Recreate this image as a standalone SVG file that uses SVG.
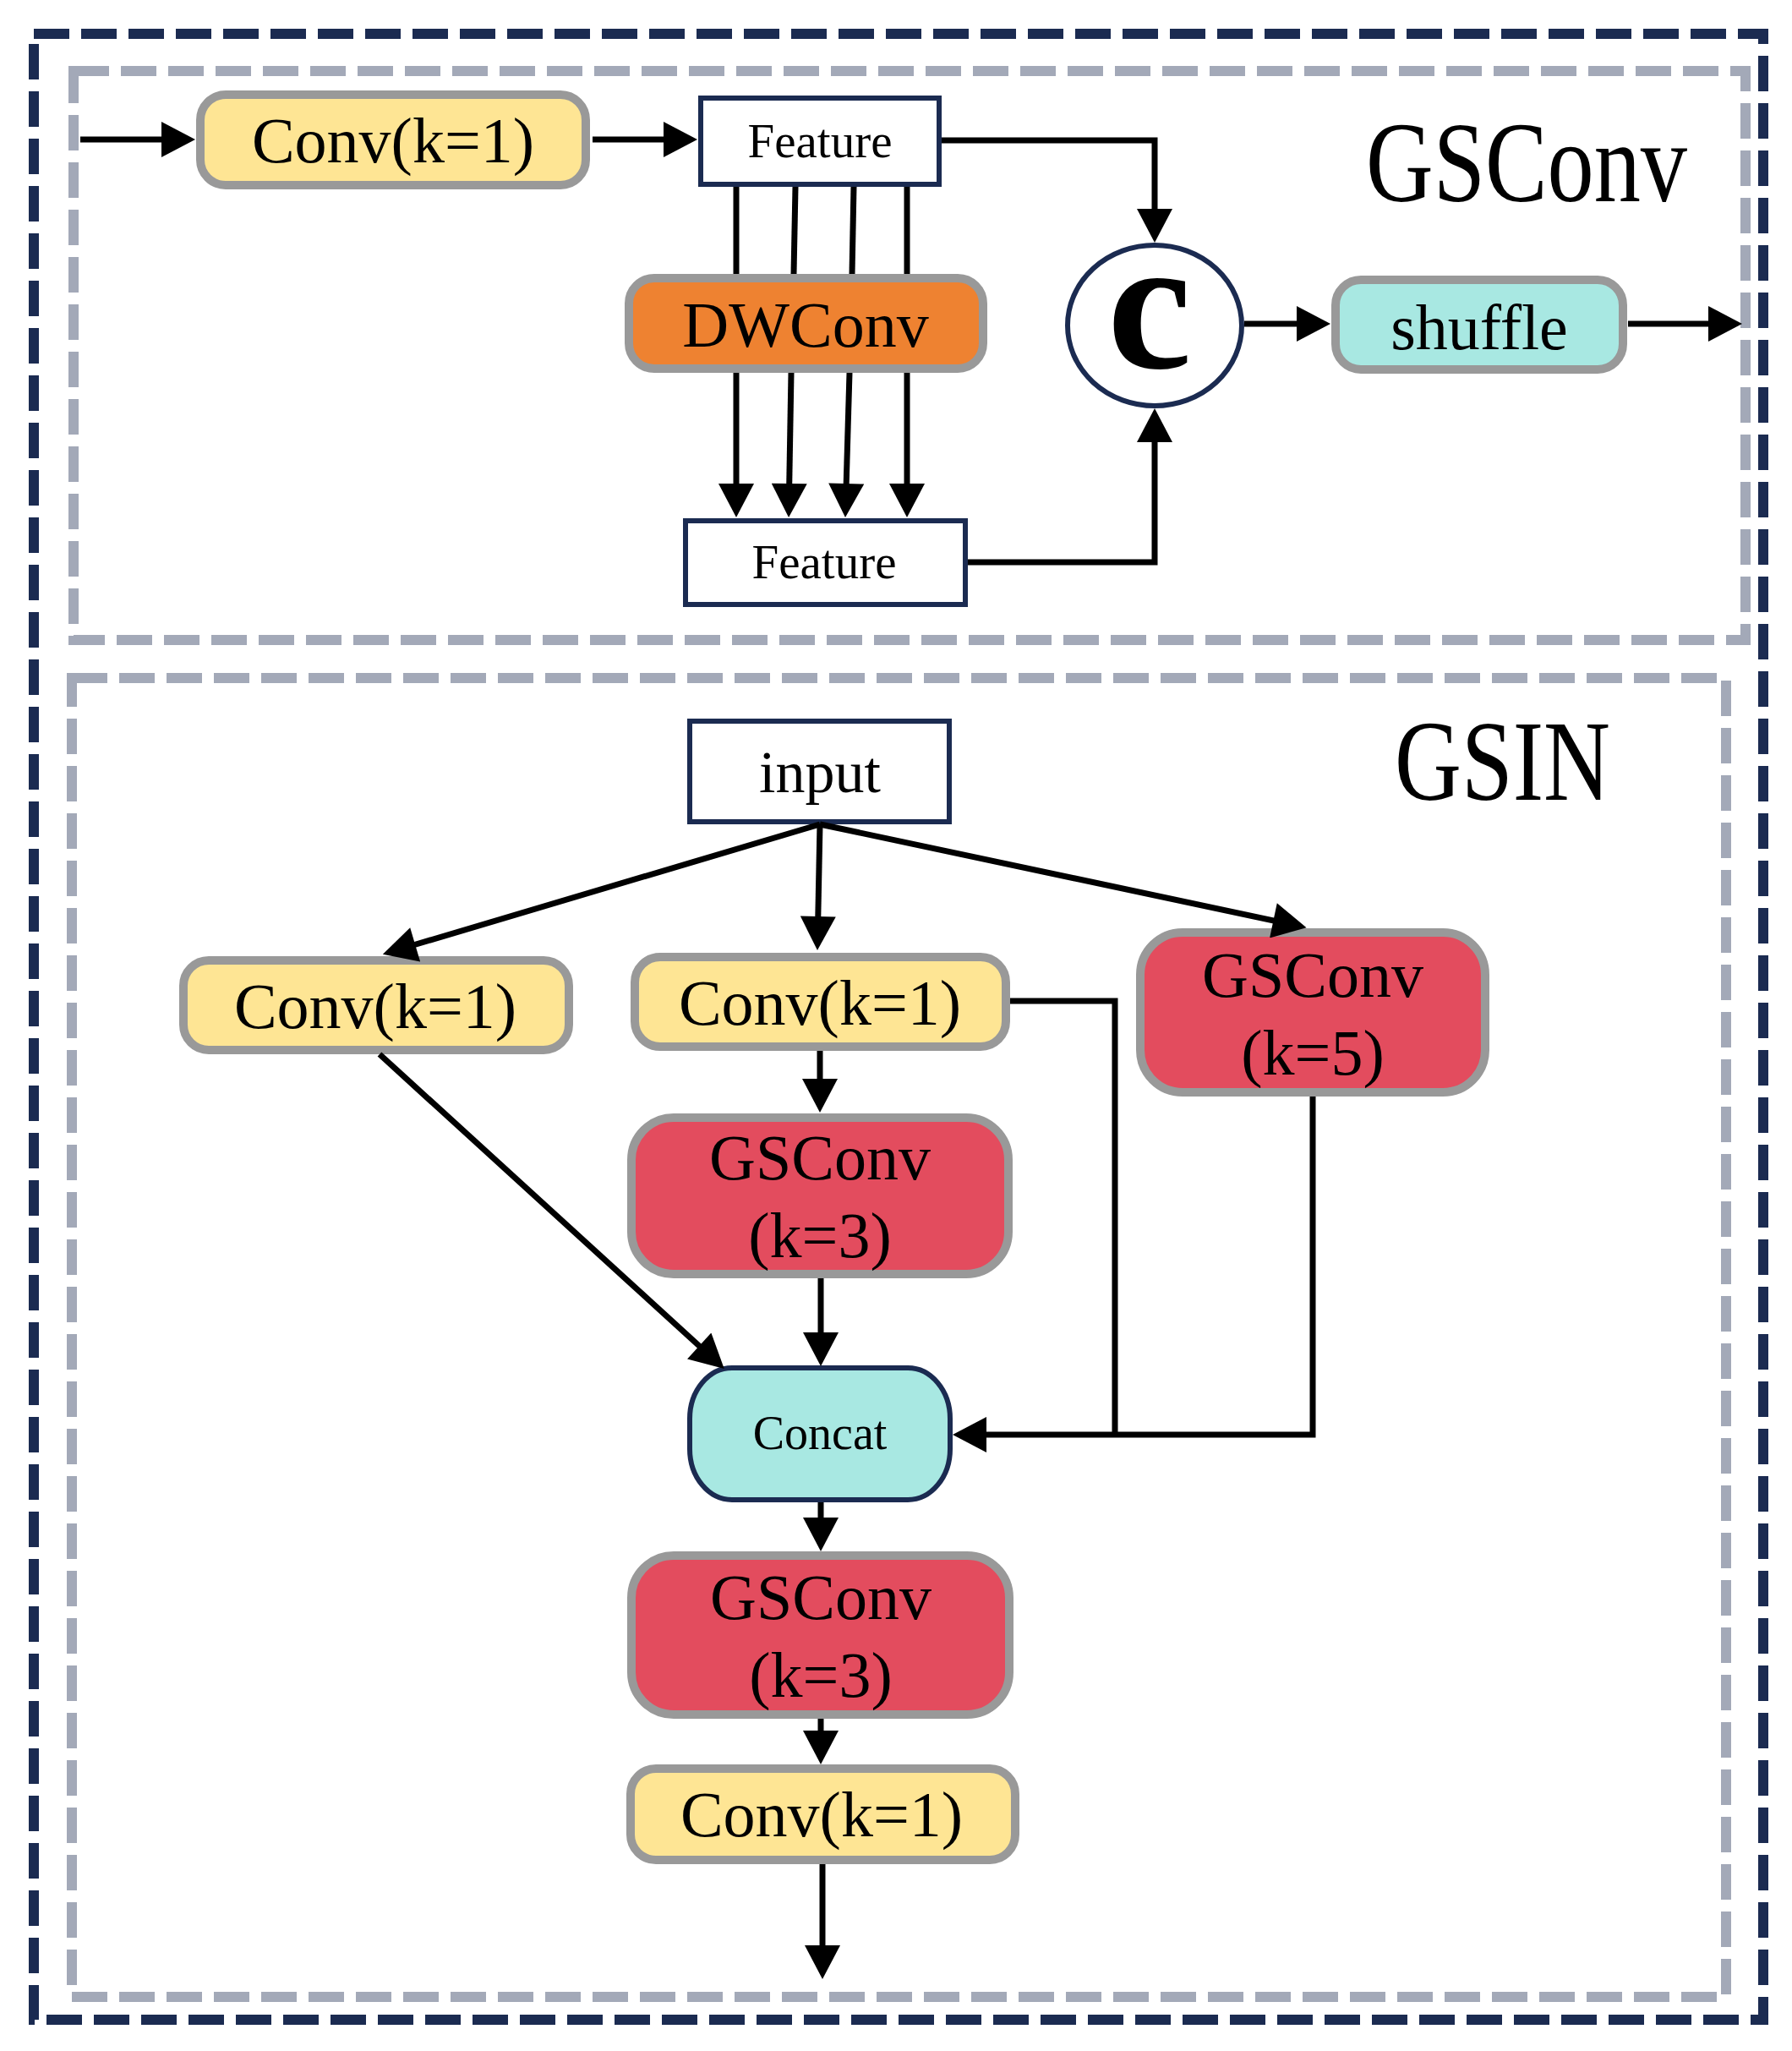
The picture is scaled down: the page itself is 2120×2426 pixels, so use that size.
<svg xmlns="http://www.w3.org/2000/svg" width="2120" height="2426" viewBox="0 0 2120 2426">
<style>
.bg{fill:#ffffff}
.frame-outer{fill:none;stroke:#1B2B51;stroke-width:12;stroke-dasharray:42 14}
.frame-inner{fill:none;stroke:#A3A9B8;stroke-width:12;stroke-dasharray:42 14}
.yel{fill:#FEE594;stroke:#999999;stroke-width:10}
.red{fill:#E34C5E;stroke:#999999;stroke-width:10}
.org{fill:#EE8231;stroke:#999999;stroke-width:10}
.cyn{fill:#A8E8E2;stroke:#999999;stroke-width:10}
.feat{fill:#ffffff;stroke:#1B2B51;stroke-width:6}
.cat{fill:#A8E8E2;stroke:#1B2B51;stroke-width:6}
.t{font-family:"Liberation Serif","Times New Roman",serif;fill:#000000;text-anchor:middle}
.ln{fill:none;stroke:#000000;stroke-width:7}
.arr{marker-end:url(#ah)}
</style>
<defs>
<marker id="ah" markerUnits="userSpaceOnUse" markerWidth="42" markerHeight="42" viewBox="0 0 40 42" refX="20" refY="21" orient="auto">
<path d="M0,0 L40,21 L0,42 z" fill="#000000"/>
</marker>
</defs>
<rect class="bg" x="0" y="0" width="2120" height="2426"/>
<g id="frames">
<rect class="frame-outer" x="40" y="40" width="2046" height="2349"/>
<rect class="frame-inner" x="87" y="84" width="1978" height="673"/>
<rect class="frame-inner" x="85" y="802" width="1957" height="1560"/>
</g>
<g id="title-gsconv"><text class="t" x="1616" y="238" font-size="135" text-anchor="start" style="text-anchor:start" textLength="380" lengthAdjust="spacingAndGlyphs">GSConv</text></g>
<g id="title-gsin"><text class="t" x="1650" y="946" font-size="135" style="text-anchor:start" textLength="255" lengthAdjust="spacingAndGlyphs">GSIN</text></g>

<g id="n-conv-top"><rect class="yel" x="237" y="112" width="456" height="107" rx="30"/><text class="t" x="465" y="192" font-size="76">Conv(k=1)</text></g>
<g id="n-feature-top"><rect class="feat" x="829" y="116" width="282" height="102"/><text class="t" x="970" y="186" font-size="57">Feature</text></g>
<g id="n-dwconv"><rect class="org" x="744" y="329" width="419" height="107" rx="30"/><text class="t" x="953" y="410" font-size="76">DWConv</text></g>
<g id="n-feature-bottom"><rect class="feat" x="811" y="616" width="331" height="99"/><text class="t" x="975" y="684" font-size="57">Feature</text></g>
<g id="n-concat-c"><ellipse cx="1366" cy="385" rx="103" ry="95" fill="#ffffff" stroke="#1B2B51" stroke-width="6"/><text class="t" x="1360" y="435" font-size="225" font-weight="bold">c</text></g>
<g id="n-shuffle"><rect class="cyn" x="1580" y="331" width="340" height="106" rx="30"/><text class="t" x="1750" y="413" font-size="76">shuffle</text></g>

<g id="n-input"><rect class="feat" x="816" y="853" width="307" height="119" stroke-width="7"/><text class="t" x="970" y="937" font-size="70">input</text></g>
<g id="n-conv-left"><rect class="yel" x="217" y="1136" width="456" height="106" rx="30"/><text class="t" x="444" y="1216" font-size="76">Conv(k=1)</text></g>
<g id="n-conv-center"><rect class="yel" x="751" y="1132" width="439" height="106" rx="30"/><text class="t" x="970" y="1212" font-size="76">Conv(k=1)</text></g>
<g id="n-gsconv-k5"><rect class="red" x="1349" y="1103" width="408" height="189" rx="50"/><text class="t" x="1553" y="1179" font-size="76">GSConv</text><text class="t" x="1553" y="1271" font-size="76">(k=5)</text></g>
<g id="n-gsconv-k3a"><rect class="red" x="747" y="1322" width="446" height="185" rx="50"/><text class="t" x="970" y="1395" font-size="76">GSConv</text><text class="t" x="970" y="1487" font-size="76">(k=3)</text></g>
<g id="n-concat"><rect class="cat" x="816" y="1618" width="308" height="156" rx="50" ry="60"/><text class="t" x="970" y="1714" font-size="56">Concat</text></g>
<g id="n-gsconv-k3b"><rect class="red" x="747" y="1840" width="447" height="188" rx="50"/><text class="t" x="971" y="1915" font-size="76">GSConv</text><text class="t" x="971" y="2007" font-size="76">(k=3)</text></g>
<g id="n-conv-bottom"><rect class="yel" x="746" y="2092" width="455" height="108" rx="30"/><text class="t" x="972" y="2172" font-size="76">Conv(k=1)</text></g>

<g id="connectors">
<path class="ln arr" d="M95,165 H211"/>
<path class="ln arr" d="M701,165 H805"/>
<path class="ln arr" d="M1114,166 H1366 V267"/>
<path class="ln" d="M871,221 V324"/>
<path class="ln" d="M941,221 L939,324"/>
<path class="ln" d="M1010,221 L1008,324"/>
<path class="ln" d="M1073,221 V324"/>
<path class="ln arr" d="M871,441 V592"/>
<path class="ln arr" d="M936,441 L933.4,592"/>
<path class="ln arr" d="M1005,441 L1000.6,592"/>
<path class="ln arr" d="M1073,441 V592"/>
<path class="ln arr" d="M1145,665 H1366 V503"/>
<path class="ln arr" d="M1472,383 H1554"/>
<path class="ln arr" d="M1926,383 H2041"/>

<path class="ln arr" d="M970,975 L472,1123"/>
<path class="ln arr" d="M970,975 L967.4,1104"/>
<path class="ln arr" d="M970,975 L1526,1093"/>
<path class="ln arr" d="M449,1247 L842,1605.5"/>
<path class="ln arr" d="M970,1243 V1296"/>
<path class="ln arr" d="M971,1512 V1596"/>
<path class="ln" d="M1195,1184 H1319 V1697"/>
<path class="ln arr" d="M1553,1297 V1697 H1147"/>
<path class="ln arr" d="M971,1777 V1815"/>
<path class="ln arr" d="M971,2033 V2067"/>
<path class="ln arr" d="M973,2205 V2321"/>
</g>
</svg>
